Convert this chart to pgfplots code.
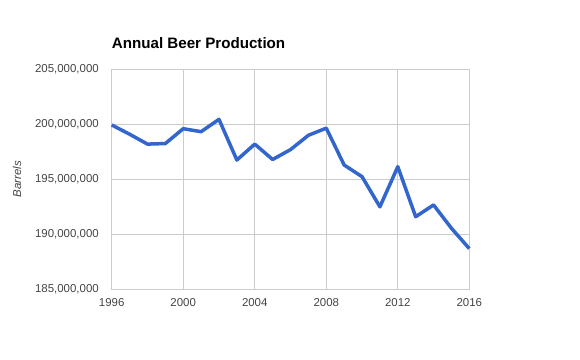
\documentclass[border=0pt]{standalone}
\usepackage{pgfplots}
\pgfplotsset{compat=1.18}
\usepackage{fontspec}
\setmainfont{Liberation Sans}
\definecolor{gline}{HTML}{CCCCCC}
\definecolor{lblue}{HTML}{3366CC}
\definecolor{tickc}{HTML}{444444}
\begin{document}
\begin{tikzpicture}[x=1bp,y=1bp]
\useasboundingbox (0,0) rectangle (580,359);
\begin{axis}[
  at={(111.7bp,69.7bp)}, anchor=south west,
  scale only axis, width=357.6bp, height=220bp,
  xmin=1996, xmax=2016, ymin=185000000, ymax=205000000,
  xtick={1996,2000,2004,2008,2012,2016},
  ytick={185000000,190000000,195000000,200000000,205000000},
  scaled y ticks=false,
  /pgf/number format/assume math mode=true,
  x tick label style={/pgf/number format/1000 sep={}, yshift=-5.5bp},
  y tick label style={/pgf/number format/fixed, /pgf/number format/precision=0, /pgf/number format/1000 sep={,}, xshift=-9.4bp},
  ticklabel style={font=\fontsize{11.5}{13}\selectfont, text=tickc},
  major tick length=0pt,
  grid=major, grid style={gline, line width=1bp},
  axis line style={gline, line width=1bp},
  title={\bfseries Annual Beer Production},
  title style={font=\fontsize{15.2}{17}\selectfont, anchor=base west, at={(0,1)}, yshift=15bp, inner xsep=0pt},
  ylabel={\itshape Barrels},
  ylabel style={font=\fontsize{11.5}{13}\selectfont, text=tickc, at={(axis description cs:-0.265,0.5)}, anchor=center},
  clip=false,
]
\addplot[lblue, line width=3.5bp, line join=round] coordinates {
(1996,199940000) (1997,199100000) (1998,198200000) (1999,198250000)
(2000,199600000) (2001,199330000) (2002,200450000) (2003,196750000)
(2004,198200000) (2005,196800000) (2006,197700000) (2007,199000000)
(2008,199650000) (2009,196300000) (2010,195240000) (2011,192500000)
(2012,196150000) (2013,191600000) (2014,192670000) (2015,190550000)
(2016,188700000)
};
\end{axis}
\end{tikzpicture}
\end{document}
